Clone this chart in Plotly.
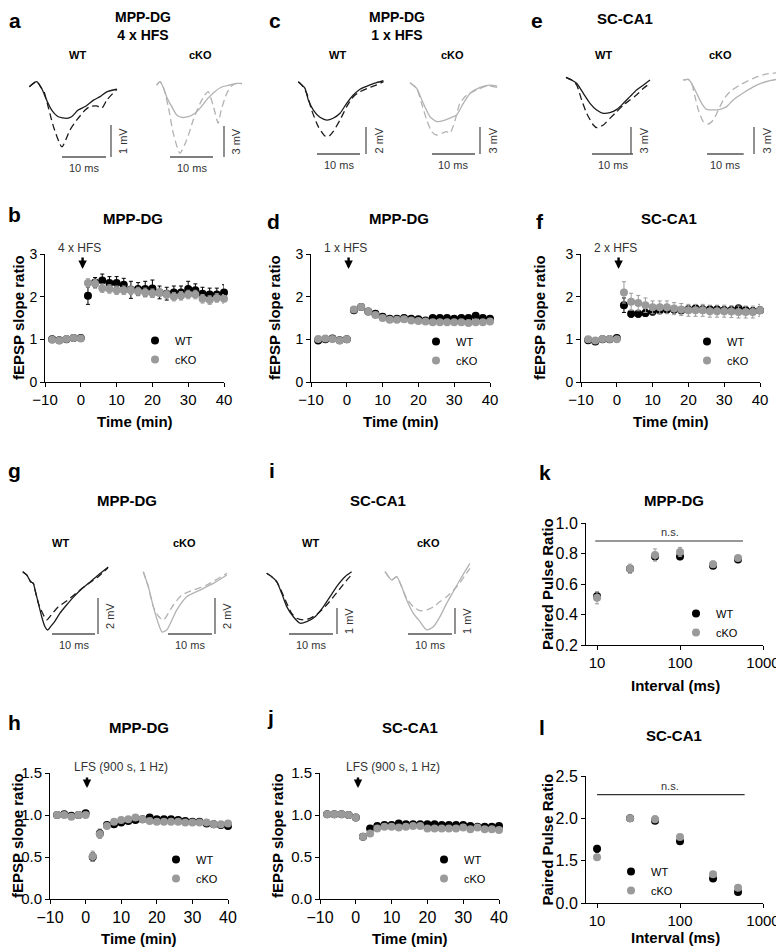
import plotly.graph_objects as go

# page body has an 8 px margin, so the figure starts 8 px in from the corner
OFF = 8
W, H = 784 - OFF, 949 - OFF
FONT = "Arial, Liberation Sans, sans-serif"
WT_C = "#000000"
KO_C = "#9a9a9a"
WT_LINE = "#1c1c1c"
KO_LINE = "#b2b2b2"
BAR_C = "#555555"

# ---------------- LTP / LTD time courses ----------------
time_min = [-8, -6, -4, -2, 0, 2, 4, 6, 8, 10, 12, 14, 16, 18, 20, 22, 24, 26, 28, 30, 32, 34, 36, 38, 40]

# b: MPP-DG, 4 x HFS
b_wt = [1.00, 0.98, 1.00, 1.03, 1.03, 2.02, 2.33, 2.38, 2.32, 2.32, 2.28, 2.16, 2.18, 2.18, 2.19, 2.10, 2.07, 2.10, 2.10, 2.18, 2.15, 2.07, 2.05, 2.05, 2.10]
b_wt_err = [0.02, 0.02, 0.02, 0.02, 0.02, 0.20, 0.12, 0.15, 0.15, 0.15, 0.15, 0.20, 0.15, 0.18, 0.20, 0.15, 0.15, 0.15, 0.15, 0.18, 0.15, 0.15, 0.15, 0.15, 0.18]
b_ko = [0.99, 0.97, 1.01, 1.03, 1.02, 2.32, 2.30, 2.20, 2.18, 2.15, 2.15, 2.15, 2.12, 2.10, 2.08, 2.10, 2.05, 2.00, 2.02, 2.05, 2.05, 1.95, 1.92, 1.97, 1.95]
b_ko_err = [0.02, 0.02, 0.02, 0.02, 0.02, 0.10, 0.10, 0.10, 0.10, 0.10, 0.10, 0.10, 0.10, 0.10, 0.10, 0.10, 0.10, 0.10, 0.10, 0.10, 0.10, 0.10, 0.10, 0.10, 0.10]

# d: MPP-DG, 1 x HFS
d_wt = [0.97, 1.00, 1.02, 0.98, 1.00, 1.68, 1.76, 1.65, 1.60, 1.53, 1.48, 1.48, 1.50, 1.48, 1.47, 1.44, 1.50, 1.50, 1.50, 1.48, 1.50, 1.50, 1.55, 1.50, 1.48]
d_wt_err = [0.02, 0.02, 0.02, 0.02, 0.02, 0.05, 0.05, 0.05, 0.05, 0.05, 0.05, 0.05, 0.05, 0.05, 0.05, 0.05, 0.06, 0.06, 0.06, 0.06, 0.06, 0.06, 0.06, 0.06, 0.06]
d_ko = [1.01, 1.02, 1.01, 0.97, 1.00, 1.70, 1.76, 1.65, 1.57, 1.50, 1.46, 1.46, 1.47, 1.44, 1.43, 1.42, 1.40, 1.40, 1.40, 1.40, 1.40, 1.38, 1.40, 1.40, 1.42]
d_ko_err = [0.02, 0.02, 0.02, 0.02, 0.02, 0.04, 0.04, 0.04, 0.04, 0.04, 0.04, 0.04, 0.04, 0.04, 0.04, 0.04, 0.04, 0.04, 0.04, 0.04, 0.04, 0.04, 0.04, 0.04, 0.04]

# f: SC-CA1, 2 x HFS
f_wt = [0.98, 0.95, 1.00, 1.00, 1.03, 1.80, 1.60, 1.60, 1.62, 1.65, 1.68, 1.70, 1.70, 1.68, 1.70, 1.72, 1.70, 1.70, 1.70, 1.68, 1.68, 1.72, 1.68, 1.66, 1.68]
f_wt_err = [0.02, 0.02, 0.02, 0.02, 0.02, 0.17, 0.08, 0.08, 0.08, 0.08, 0.08, 0.08, 0.08, 0.08, 0.08, 0.08, 0.08, 0.08, 0.08, 0.08, 0.08, 0.08, 0.08, 0.08, 0.08]
f_ko = [1.00, 0.97, 1.01, 1.01, 1.00, 2.10, 1.88, 1.85, 1.80, 1.75, 1.75, 1.75, 1.72, 1.70, 1.68, 1.68, 1.68, 1.66, 1.66, 1.66, 1.65, 1.64, 1.64, 1.64, 1.68]
f_ko_err = [0.02, 0.02, 0.02, 0.02, 0.02, 0.25, 0.20, 0.18, 0.17, 0.15, 0.15, 0.15, 0.14, 0.14, 0.14, 0.14, 0.14, 0.14, 0.14, 0.14, 0.14, 0.14, 0.14, 0.14, 0.14]

# h: MPP-DG, LFS
h_wt = [1.00, 1.01, 0.99, 1.00, 1.02, 0.50, 0.78, 0.88, 0.89, 0.91, 0.93, 0.94, 0.95, 0.97, 0.95, 0.95, 0.95, 0.94, 0.93, 0.92, 0.92, 0.90, 0.89, 0.88, 0.87]
h_wt_err = [0.01, 0.01, 0.01, 0.01, 0.01, 0.05, 0.05, 0.03, 0.02, 0.02, 0.02, 0.02, 0.02, 0.02, 0.02, 0.02, 0.02, 0.02, 0.02, 0.02, 0.02, 0.02, 0.02, 0.02, 0.02]
h_ko = [1.00, 1.00, 0.98, 1.00, 1.00, 0.51, 0.77, 0.87, 0.92, 0.94, 0.95, 0.97, 0.95, 0.93, 0.92, 0.92, 0.92, 0.92, 0.91, 0.91, 0.91, 0.91, 0.89, 0.89, 0.90]
h_ko_err = [0.01, 0.01, 0.01, 0.01, 0.01, 0.06, 0.05, 0.03, 0.02, 0.02, 0.02, 0.02, 0.02, 0.02, 0.02, 0.02, 0.02, 0.02, 0.02, 0.02, 0.02, 0.02, 0.02, 0.02, 0.02]

# j: SC-CA1, LFS
j_wt = [1.01, 1.01, 1.01, 1.00, 0.97, 0.74, 0.84, 0.87, 0.88, 0.88, 0.90, 0.89, 0.89, 0.89, 0.89, 0.89, 0.88, 0.88, 0.88, 0.88, 0.87, 0.86, 0.86, 0.86, 0.87]
j_wt_err = [0.01, 0.01, 0.01, 0.01, 0.01, 0.02, 0.02, 0.02, 0.02, 0.02, 0.02, 0.02, 0.02, 0.02, 0.02, 0.02, 0.02, 0.02, 0.02, 0.02, 0.02, 0.02, 0.02, 0.02, 0.02]
j_ko = [1.01, 1.01, 1.01, 1.00, 0.97, 0.74, 0.78, 0.84, 0.86, 0.86, 0.85, 0.86, 0.87, 0.87, 0.84, 0.84, 0.84, 0.84, 0.84, 0.85, 0.83, 0.85, 0.83, 0.83, 0.82]
j_ko_err = [0.01, 0.01, 0.01, 0.01, 0.01, 0.02, 0.02, 0.02, 0.02, 0.02, 0.02, 0.02, 0.02, 0.02, 0.02, 0.02, 0.02, 0.02, 0.02, 0.02, 0.02, 0.02, 0.02, 0.02, 0.02]

# ---------------- paired pulse ----------------
interval_ms = [10, 25, 50, 100, 250, 500]
k_wt = [0.52, 0.70, 0.78, 0.78, 0.72, 0.76]
k_wt_err = [0.02, 0.02, 0.02, 0.02, 0.01, 0.01]
k_ko = [0.51, 0.70, 0.79, 0.81, 0.73, 0.77]
k_ko_err = [0.04, 0.03, 0.04, 0.03, 0.02, 0.01]
l_wt = [1.64, 2.00, 1.97, 1.73, 1.29, 1.13]
l_wt_err = [0.04, 0.02, 0.03, 0.02, 0.02, 0.02]
l_ko = [1.54, 2.00, 1.99, 1.78, 1.34, 1.18]
l_ko_err = [0.02, 0.02, 0.04, 0.03, 0.02, 0.02]
k_ns = ([9.5, 575], 0.882)
l_ns = ([10, 600], 2.28)

# ---------------- example fEPSP traces (ms, mV) ----------------
a_wt_t = [0, 1.67, 2.8, 3.95, 5.1, 6.6, 8.5, 9.6, 11.1, 12.7, 14.6, 16.1, 17.6, 19.9]
a_wt_v = [0, 0.16, -0.05, -0.42, -0.73, -0.94, -0.99, -0.94, -0.73, -0.62, -0.42, -0.31, -0.16, -0.08]
a_wt_dt = [0, 1.67, 2.8, 3.2, 5.5, 7.4, 9.25, 10.8, 12.7, 13.8, 15.3, 16.5, 17.6, 19.9]
a_wt_dv = [0, 0.16, -0.05, -0.1, -1.25, -1.88, -1.35, -1.04, -0.73, -0.62, -0.6, -0.67, -0.42, -0.08]
a_ko_t = [0, 0.77, 1.53, 2.3, 3.5, 4.65, 5.8, 7.35, 8.9, 10.4, 11.9, 13.5, 15.0, 17.0, 18.6, 19.8]
a_ko_v = [0, 0.32, -0.22, -1.13, -2.1, -2.9, -3.13, -3.07, -2.74, -2.1, -1.29, -0.65, -0.22, 0, 0.16, 0.16]
a_ko_dt = [0, 0.77, 1.53, 2.7, 3.86, 5.4, 7.0, 8.5, 10.1, 11.2, 12.0, 13.2, 14.3, 15.0, 16.3, 17.4, 18.6, 19.8]
a_ko_dv = [0, 0.32, -0.22, -2.1, -4.68, -6.6, -5.3, -3.39, -1.77, -0.97, -0.65, -2.1, -3.7, -2.42, -0.8, -0.1, 0.16, 0.1]

c_wt_t = [0, 0.79, 1.56, 2.33, 3.5, 5.04, 6.6, 8.1, 9.7, 11.25, 12.8, 14.35, 16.7, 18.2, 19.8]
c_wt_v = [0, -0.24, -0.49, -1.36, -2.1, -2.64, -2.84, -2.71, -2.34, -1.6, -0.99, -0.56, -0.24, -0.07, 0.07]
c_wt_dt = [0, 0.79, 1.95, 3.1, 4.65, 6.2, 7.0, 8.1, 9.7, 11.25, 12.8, 14.35, 16.7, 18.2, 19.8]
c_wt_dv = [0, -0.24, -0.86, -2.1, -3.33, -4.02, -4.07, -3.7, -2.84, -1.85, -1.11, -0.74, -0.41, -0.24, 0]
c_ko_t = [0, 1.55, 3.1, 4.65, 6.2, 8.14, 9.7, 10.85, 12.4, 13.95, 16.3, 18.6, 20.3]
c_ko_v = [0, -0.63, -2.3, -3.78, -4.33, -4.15, -3.85, -3.59, -2.3, -1.19, -0.52, -0.26, -0.37]
c_ko_dt = [0, 1.55, 2.7, 3.9, 5.04, 6.2, 7.36, 8.5, 9.3, 10.5, 11.6, 13.2, 15.5, 17.8, 20.3]
c_ko_dv = [0, -0.63, -2.3, -4.15, -5.44, -5.81, -5.63, -5.44, -5.63, -4.15, -2.3, -1.37, -0.81, -0.37, -0.52]

e_wt_t = [0, 1.38, 2.6, 4.23, 5.85, 7.48, 9.1, 10.7, 12.4, 14.0, 15.6, 17.2, 18.9, 20.5]
e_wt_v = [0, -0.3, -0.67, -1.78, -2.89, -3.63, -4.0, -3.93, -3.56, -2.89, -2.15, -1.41, -0.85, -0.3]
e_wt_dt = [0, 1.38, 2.6, 3.82, 5.04, 6.67, 7.48, 9.1, 10.7, 12.4, 14.0, 15.6, 17.2, 18.9, 20.5]
e_wt_dv = [0, -0.3, -0.85, -2.52, -4.0, -5.3, -5.6, -5.3, -4.56, -3.81, -3.07, -2.52, -1.96, -1.22, -0.67]
e_ko_t = [0, 1.36, 2.27, 3.64, 5.0, 6.36, 8.18, 10.0, 11.8, 13.6, 16.4, 20.0, 23.6, 25.5]
e_ko_v = [0, 0.07, -0.37, -1.48, -2.59, -3.26, -3.33, -3.26, -2.96, -2.22, -1.41, -0.56, -0.07, 0.07]
e_ko_dt = [0, 1.36, 2.27, 3.18, 4.1, 5.45, 6.8, 8.18, 9.55, 10.9, 12.7, 15.45, 19.1, 22.7, 25.5]
e_ko_dv = [0, 0.07, -0.37, -1.85, -3.33, -4.63, -4.89, -4.44, -3.33, -2.22, -1.3, -0.56, 0.19, 0.67, 0.81]

g_wt_t = [0, 0.93, 1.86, 2.47, 2.88, 3.65, 4.42, 5.19, 5.77, 6.58, 7.51, 8.67, 10.2, 11.8, 13.7, 15.7, 17.6, 19.9]
g_wt_v = [0, -0.18, -0.56, -0.65, -1.02, -1.76, -2.5, -3.06, -3.24, -3.02, -2.74, -2.3, -1.85, -1.41, -0.96, -0.57, -0.18, 0.26]
g_wt_dt = [0, 0.93, 1.86, 2.47, 2.88, 3.65, 4.49, 5.58, 6.81, 8.21, 10.2, 12.2, 14.5, 17.5, 19.8]
g_wt_dv = [0, -0.18, -0.56, -0.65, -1.02, -1.76, -2.24, -2.68, -2.35, -1.96, -1.63, -1.24, -0.8, -0.29, 0.21]
g_ko_t = [0, 1.14, 2.27, 3.41, 4.25, 5.32, 7.59, 9.86, 12.9, 15.9, 19.0]
g_ko_v = [0, -0.83, -1.94, -2.87, -3.35, -3.24, -2.13, -1.39, -1.02, -0.65, -0.18]
g_ko_dt = [0, 1.14, 2.27, 3.41, 4.55, 6.82, 8.73, 11.4, 14.4, 19.0]
g_ko_dv = [0, -0.83, -1.94, -2.46, -2.69, -1.85, -1.3, -1.02, -0.74, -0.09]

i_wt_t = [0, 1.14, 2.27, 3.41, 4.55, 6.06, 7.58, 9.09, 11.0, 12.9, 14.4, 15.9, 17.8, 19.3]
i_wt_v = [0, -0.13, -0.32, -0.77, -1.28, -1.67, -1.92, -1.86, -1.67, -1.28, -0.9, -0.51, -0.13, 0.06]
i_wt_dt = [0, 1.14, 2.27, 3.41, 4.55, 5.68, 6.82, 8.33, 9.85, 11.7, 13.6, 15.2, 16.7, 18.2, 19.3]
i_wt_dv = [0, -0.13, -0.32, -0.71, -1.15, -1.54, -1.73, -1.79, -1.73, -1.54, -1.22, -0.9, -0.58, -0.26, -0.06]
i_ko_t = [0, 1.52, 2.65, 3.79, 4.92, 6.44, 7.95, 9.47, 11.0, 12.5, 14.0, 15.5, 17.0, 19.3]
i_ko_v = [0, -0.32, -0.19, -0.58, -1.09, -1.6, -1.92, -2.24, -2.12, -1.73, -1.22, -0.77, -0.32, 0.32]
i_ko_dt = [0, 1.52, 2.65, 3.79, 4.92, 6.44, 7.95, 9.47, 11.0, 12.5, 14.0, 16.3, 19.3]
i_ko_dv = [0, -0.32, -0.19, -0.58, -1.03, -1.35, -1.5, -1.47, -1.35, -1.15, -0.96, -0.58, 0.13]

fig = go.Figure()
layout = dict(width=W, height=H, margin=dict(l=0, r=0, t=0, b=0, autoexpand=False),
              paper_bgcolor="white", plot_bgcolor="white",
              font=dict(family=FONT, color="black"), showlegend=True)
annotations = []
shapes = []
n_ax = [0]


def px(x, y):
    # screen pixel -> paper fraction
    return (x - OFF) / W, 1 - (y - OFF) / H


def add_axes(left, right, top, bottom, xr, yr, xopt=None, yopt=None):
    n_ax[0] += 1
    s = "" if n_ax[0] == 1 else str(n_ax[0])
    x0, y1 = px(left, top)
    x1, y0 = px(right, bottom)
    xa = dict(domain=[max(x0, 0), min(x1, 1)], range=xr, anchor="y" + s, fixedrange=True,
              showgrid=False, zeroline=False)
    ya = dict(domain=[max(y0, 0), min(y1, 1)], range=yr, anchor="x" + s, fixedrange=True,
              showgrid=False, zeroline=False)
    xa.update(xopt or {})
    ya.update(yopt or {})
    layout["xaxis" + s] = xa
    layout["yaxis" + s] = ya
    return "x" + s, "y" + s


def ann(text, x, y, size=11, bold=False, color="black", **kw):
    xx, yy = px(x, y)
    if bold:
        text = "<b>" + text + "</b>"
    d = dict(text=text, x=xx, y=yy, xref="paper", yref="paper", showarrow=False,
             font=dict(size=size, color=color, family=FONT), xanchor="center", yanchor="middle")
    d.update(kw)
    annotations.append(d)


def arrow(x, y_tip, y_tail):
    xx, yy = px(x, y_tip)
    annotations.append(dict(text="", x=xx, y=yy, xref="paper", yref="paper", showarrow=True,
                            ax=0, ay=-(y_tip - y_tail), arrowhead=2, arrowsize=0.7,
                            arrowwidth=2.4, arrowcolor="black"))


def axis_style(**kw):
    d = dict(showline=True, linecolor="black", linewidth=1, ticks="outside", ticklen=4,
             tickwidth=1, tickcolor="black", tickfont=dict(size=15, family=FONT, color="black"))
    d.update(kw)
    return d


leg_n = [0]


def add_group(xa, ya, x, wt, wt_err, ko, ko_err, leg_x, leg_y):
    leg_n[0] += 1
    lname = "legend" if leg_n[0] == 1 else "legend" + str(leg_n[0])
    for y, err, c, name in ((wt, wt_err, WT_C, "WT"), (ko, ko_err, KO_C, "cKO")):
        fig.add_trace(go.Scatter(x=x, y=y, mode="markers", name=name, xaxis=xa, yaxis=ya,
                                 marker=dict(color=c, size=8),
                                 error_y=dict(type="data", array=err, color=c, thickness=1, width=2),
                                 legend=lname, cliponaxis=False))
    # leg_x, leg_y: centre of the WT legend dot in the reference
    lx, ly = px(leg_x - 24, leg_y - 18)
    layout[lname] = dict(x=lx, y=ly, xanchor="left", yanchor="top", bgcolor="rgba(0,0,0,0)",
                         font=dict(size=11, family=FONT, color="black"), itemwidth=30,
                         tracegroupgap=0, traceorder="normal")


time_ticks = [-10, 0, 10, 20, 30, 40]

# ---- top row LTP panels ----
ltp = [
    ("b", (45, 224), b_wt, b_wt_err, b_ko, b_ko_err, "MPP-DG", "4 x HFS", (159, 344), 18),
    ("d", (311, 490), d_wt, d_wt_err, d_ko, d_ko_err, "MPP-DG", "1 x HFS", (440, 345), 274),
    ("f", (581, 760), f_wt, f_wt_err, f_ko, f_ko_err, "SC-CA1", "2 x HFS", (711, 345), 539),
]
for letter, (l, r), wt, we, ko, ke, title, stim, leg, ytx in ltp:
    xa, ya = add_axes(l, r, 254, 382, [-10, 40], [0, 3],
                      axis_style(tickvals=time_ticks),
                      axis_style(tickvals=[0, 1, 2, 3], tickfont=dict(size=14, family=FONT)))
    add_group(xa, ya, time_min, wt, we, ko, ke, *leg)
    zx = l + (r - l) * 10.5 / 50
    arrow(zx, 269, 256)
    ann(stim, zx - 3, 248, size=12, color="#333333")
    ann(title, (l + r) / 2 - 2, 219, size=15, bold=True)
    ann("fEPSP slope ratio", ytx, 318, size=15, bold=True, textangle=-90)
    ann("Time (min)", (l + r) / 2, 422, size=15, bold=True)

# ---- LTD panels ----
ltd = [
    ("h", (50, 228), h_wt, h_wt_err, h_ko, h_ko_err, "MPP-DG", (180, 863), 17, 87, 121),
    ("j", (320, 499), j_wt, j_wt_err, j_ko, j_ko_err, "SC-CA1", (448, 863), 277, 358, 393),
]
for letter, (l, r), wt, we, ko, ke, title, leg, ytx, arx, txx in ltd:
    xa, ya = add_axes(l, r, 773, 899, [-10, 40], [0, 1.5],
                      axis_style(tickvals=time_ticks, tickfont=dict(size=16, family=FONT)),
                      axis_style(tickvals=[0, 0.5, 1.0, 1.5], tickformat=".1f"))
    add_group(xa, ya, time_min, wt, we, ko, ke, *leg)
    arrow(arx, 788, 776)
    ann("LFS (900 s, 1 Hz)", txx, 767, size=12, color="#333333")
    ann(title, (l + r) / 2, 727, size=15, bold=True)
    ann("fEPSP slope ratio", ytx, 836, size=15, bold=True, textangle=-90)
    ann("Time (min)", (l + r) / 2, 938, size=15, bold=True)

# ---- paired pulse panels ----
pp = [
    ("k", (523, 645), [0.2, 1.0], [0.2, 0.4, 0.6, 0.8, 1.0], [f"{v:.1f}" for v in [0.2, 0.4, 0.6, 0.8, 1.0]],
     k_wt, k_wt_err, k_ko, k_ko_err, k_ns, "MPP-DG", 500, (700, 617), 685),
    ("l", (776, 903), [1.0, 2.5], [1.0, 1.5, 2.0, 2.5], ["0.0", "1.5", "2.0", "2.5"],
     l_wt, l_wt_err, l_ko, l_ko_err, l_ns, "SC-CA1", 735, (635, 875), 937),
]
for letter, (t, b), yr, tv, tt, wt, we, ko, ke, ns, title, ty, leg, xty in pp:
    xa, ya = add_axes(586, 763, t, b, [0.867, 3.0], yr,
                      axis_style(type="log", tickvals=[10, 100, 1000], ticktext=["10", "100", "1000"]),
                      axis_style(tickvals=tv, ticktext=tt, tickfont=dict(size=16, family=FONT)))
    fig.add_trace(go.Scatter(x=ns[0], y=[ns[1], ns[1]], mode="lines", xaxis=xa, yaxis=ya,
                             line=dict(color="#333333", width=1.2), showlegend=False,
                             cliponaxis=False, hoverinfo="skip"))
    add_group(xa, ya, interval_ms, wt, we, ko, ke, *leg)
    ann("n.s.", 670, (t + (b - t) * (yr[1] - ns[1]) / (yr[1] - yr[0])) - 9, size=11, color="#333333")
    ann(title, 674, ty, size=15, bold=True)
    ann("Paired Pulse Ratio", 547, (t + b) / 2, size=15, bold=True, textangle=-90)
    ann("Interval (ms)", 675, xty, size=15, bold=True)

# ---- example traces ----
# (t, v, dash t, dash v, colour, x0 px, y0 px, px/ms, px/mV, mV bar, hbar x px, hbar y px, vbar x px)
trace_panels = [
    (a_wt_t, a_wt_v, a_wt_dt, a_wt_dv, WT_LINE, 29.3, 86.7, 4.4, 32.0, 1, 62, 157, 111),
    (a_ko_t, a_ko_v, a_ko_dt, a_ko_dv, KO_LINE, 156.7, 85.0, 4.3, 10.33, 3, 170, 157, 224),
    (c_wt_t, c_wt_v, c_wt_dt, c_wt_dv, WT_LINE, 298.3, 81.7, 4.3, 13.5, 2, 317, 154, 366),
    (c_ko_t, c_ko_v, c_ko_dt, c_ko_dv, KO_LINE, 410.0, 82.7, 4.3, 9.0, 3, 432, 154, 480),
    (e_wt_t, e_wt_v, e_wt_dt, e_wt_dv, WT_LINE, 566.0, 77.3, 4.1, 9.0, 3, 592, 154, 631),
    (e_ko_t, e_ko_v, e_ko_dt, e_ko_dv, KO_LINE, 683.3, 80.0, 3.67, 9.0, 3, 707, 154, 754),
    (g_wt_t, g_wt_v, g_wt_dt, g_wt_dv, WT_LINE, 22.7, 571.7, 4.3, 18.0, 2, 52, 634, 98),
    (g_ko_t, g_ko_v, g_ko_dt, g_ko_dv, KO_LINE, 143.3, 571.7, 4.4, 18.0, 2, 168, 634, 215),
    (i_wt_t, i_wt_v, i_wt_dt, i_wt_dv, WT_LINE, 266.7, 573.3, 4.4, 26.0, 1, 289, 634, 337),
    (i_ko_t, i_ko_v, i_ko_dt, i_ko_dv, KO_LINE, 385.0, 571.7, 4.4, 26.0, 1, 408, 634, 455),
]
for t, v, dt, dv, col, x0, y0, pms, pmv, mv, hx, hy, vx in trace_panels:
    left, right = x0 - 10, min(x0 + 100, 783)
    top, bottom = y0 - 30, y0 + 85
    xa, ya = add_axes(left, right, top, bottom,
                      [(left - x0) / pms, (right - x0) / pms],
                      [-(bottom - y0) / pmv, (y0 - top) / pmv],
                      dict(visible=False), dict(visible=False))
    fig.add_trace(go.Scatter(x=dt, y=dv, mode="lines", xaxis=xa, yaxis=ya, showlegend=False,
                             line=dict(color=col, width=1.3, dash="7px,4px", shape="spline", smoothing=0.6),
                             hoverinfo="skip", cliponaxis=False))
    fig.add_trace(go.Scatter(x=t, y=v, mode="lines", xaxis=xa, yaxis=ya, showlegend=False,
                             line=dict(color=col, width=1.3, shape="spline", smoothing=0.6),
                             hoverinfo="skip", cliponaxis=False))
    # scale bars: 10 ms and mv mV
    bt = (hx - x0) / pms
    bv = -(hy - y0) / pmv
    vt = (vx - x0) / pms
    shapes.append(dict(type="line", xref=xa, yref=ya, x0=bt, x1=bt + 10, y0=bv, y1=bv,
                       line=dict(color=BAR_C, width=1.3)))
    shapes.append(dict(type="line", xref=xa, yref=ya, x0=vt, x1=vt, y0=bv, y1=bv + mv,
                       line=dict(color=BAR_C, width=1.3)))
    ann("10 ms", hx + 5 * pms, hy + 11, size=11, color="#333333")
    ann(f"{mv} mV", vx + 12, hy - mv * pmv / 2, size=11, color="#333333", textangle=-90)

# trace headings
for txt, x, y in [("WT", 77, 55), ("cKO", 200, 55), ("WT", 337, 55), ("cKO", 453, 55),
                  ("WT", 603, 55), ("cKO", 720, 55), ("WT", 60, 543), ("cKO", 184, 543),
                  ("WT", 310, 543), ("cKO", 428, 543)]:
    ann(txt, x, y, size=11, bold=True)

ann("MPP-DG<br>4 x HFS", 143, 26, size=14, bold=True)
ann("MPP-DG<br>1 x HFS", 397, 26, size=14, bold=True)
ann("SC-CA1", 625, 18, size=15, bold=True)
ann("MPP-DG", 127, 500, size=15, bold=True)
ann("SC-CA1", 378, 500, size=15, bold=True)

# panel letters
for txt, x, y in [("a", 15, 21), ("c", 275, 21), ("e", 537, 21), ("b", 15, 215), ("d", 273, 221),
                  ("f", 540, 222), ("g", 15, 470), ("i", 272, 470), ("k", 545, 472),
                  ("h", 15, 722), ("j", 270, 717), ("l", 542, 727)]:
    ann(txt, x, y, size=21, bold=True)

layout["annotations"] = annotations
layout["shapes"] = shapes
fig.update_layout(**layout)
fig.write_html("out.html")
